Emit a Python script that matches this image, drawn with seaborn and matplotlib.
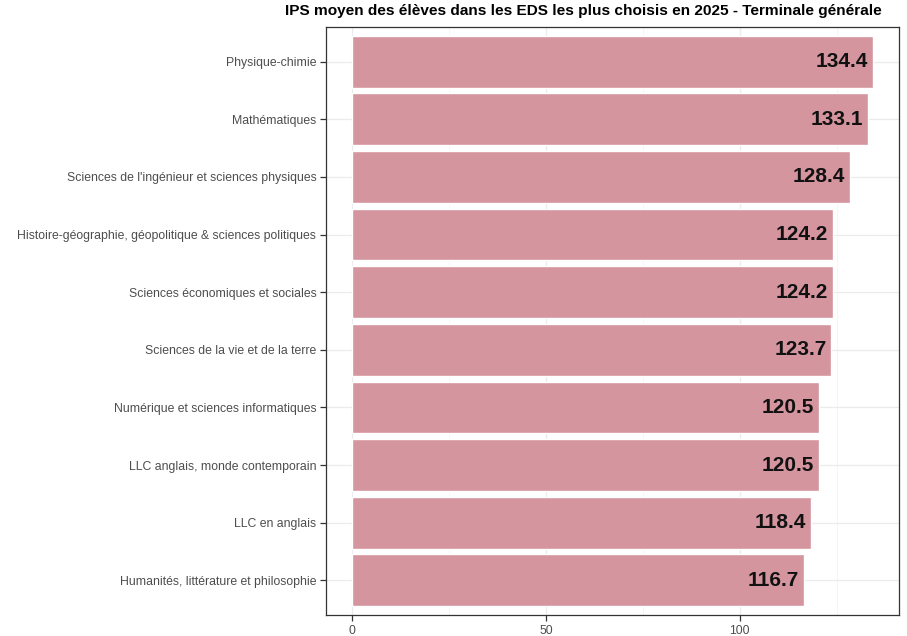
import matplotlib
matplotlib.use("Agg")
import matplotlib.pyplot as plt
import seaborn as sns
import pandas as pd

subjects = [
    "Physique-chimie",
    "Mathématiques",
    "Sciences de l'ingénieur et sciences physiques",
    "Histoire-géographie, géopolitique & sciences politiques",
    "Sciences économiques et sociales",
    "Sciences de la vie et de la terre",
    "Numérique et sciences informatiques",
    "LLC anglais, monde contemporain",
    "LLC en anglais",
    "Humanités, littérature et philosophie",
]
ips = [134.4, 133.1, 128.4, 124.2, 124.2, 123.7, 120.5, 120.5, 118.4, 116.7]
x_ticks = [0, 50, 100]

df = pd.DataFrame({"subject": subjects, "ips": ips})

sns.set_style("white")
plt.rcParams["font.family"] = ["Liberation Sans", "DejaVu Sans"]

fig = plt.figure(figsize=(9.07, 6.36), dpi=100)
ax = fig.add_axes([0.3594, 0.033, 0.6318, 0.9245])

sns.barplot(data=df, x="ips", y="subject", orient="h", color="#D4959F",
            saturation=1, width=0.9, ax=ax, zorder=2)

for i, v in enumerate(ips):
    ax.text(v - 1.3, i, f"{v:.1f}", ha="right", va="center",
            fontsize=15, fontweight="bold", color="#111111", zorder=3)

xmax = max(ips)
ax.set_xlim(-0.05 * xmax, xmax * 1.05)
ax.set_ylim(len(subjects) - 0.4, -0.6)
ax.set_xticks(x_ticks)
ax.set_xticks([25, 75, 125], minor=True)
ax.grid(True, which="major", color="#EBEBEB", linewidth=0.9, zorder=0)
ax.grid(True, which="minor", axis="x", color="#F4F4F4", linewidth=0.6, zorder=0)
ax.set_axisbelow(True)
ax.tick_params(axis="both", which="major", length=4, width=0.9, color="#333333",
               labelsize=8.8, labelcolor="#4D4D4D", direction="out", pad=3,
               bottom=True, left=True)
ax.tick_params(axis="both", which="minor", length=0)
for s in ax.spines.values():
    s.set_color("#333333")
    s.set_linewidth(0.9)
ax.set_xlabel("")
ax.set_ylabel("")
fig.text(0.643, 0.993, "IPS moyen des élèves dans les EDS les plus choisis en 2025 - Terminale générale",
         ha="center", va="top", fontsize=11.1, fontweight="bold", color="black")

fig.savefig("out.png", dpi=100, facecolor="white")
